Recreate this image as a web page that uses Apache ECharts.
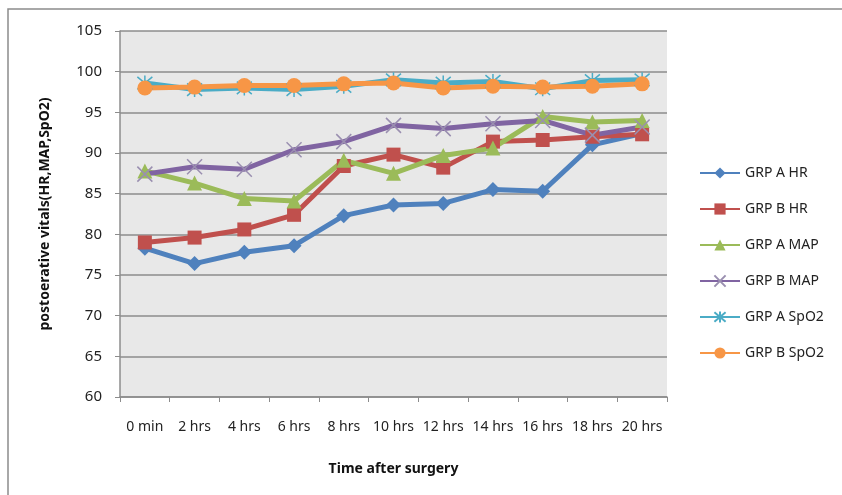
<!DOCTYPE html>
<html>
<head>
<meta charset="utf-8">
<script src="https://cdn.jsdelivr.net/npm/echarts@6/dist/echarts.min.js"></script>
<style>
html,body{margin:0;padding:0;background:#fff;}
#vitalsChart{width:842px;height:495px;}
</style>
</head>
<body>
<div id="vitalsChart"></div>
<script>
// categories (time after surgery)
var timeLabels = ['0 min', '2 hrs', '4 hrs', '6 hrs', '8 hrs', '10 hrs', '12 hrs', '14 hrs', '16 hrs', '18 hrs', '20 hrs'];

// series values
var grpAHR   = [78.3, 76.4, 77.8, 78.6, 82.3, 83.6, 83.8, 85.5, 85.3, 91.0, 92.4];
var grpBHR   = [79.0, 79.6, 80.6, 82.4, 88.4, 89.8, 88.2, 91.4, 91.6, 92.0, 92.3];
var grpAMAP  = [87.8, 86.3, 84.4, 84.1, 89.1, 87.5, 89.7, 90.6, 94.5, 93.8, 94.0];
var grpBMAP  = [87.4, 88.3, 88.0, 90.4, 91.4, 93.4, 93.0, 93.6, 94.0, 92.2, 93.2];
var grpASpO2 = [98.6, 97.8, 98.0, 97.8, 98.2, 99.0, 98.6, 98.8, 97.9, 98.9, 99.0];
var grpBSpO2 = [98.0, 98.1, 98.3, 98.3, 98.5, 98.6, 98.0, 98.2, 98.1, 98.2, 98.5];

var seriesNames = ['GRP A HR', 'GRP B HR', 'GRP A MAP', 'GRP B MAP', 'GRP A SpO2', 'GRP B SpO2'];

var fontFam = 'Noto Sans';

// marker shapes that are only strokes
var crossPath = 'path://M0,0L10,10M10,0L0,10';
var starPath = 'path://M0,0L10,10M10,0L0,10M5,-1L5,11';

function lineSeries(name, data, color, symbol, size, extraItem) {
	var item = { color: color };
	if (extraItem) {
		for (var k in extraItem) item[k] = extraItem[k];
	}
	return {
		name: name,
		type: 'line',
		data: data,
		symbol: symbol,
		symbolSize: size,
		showAllSymbol: true,
		lineStyle: { color: color, width: 5 },
		itemStyle: item,
		emphasis: { disabled: true }
	};
}

var vitalsChart = echarts.init(document.getElementById('vitalsChart'));

var vitalsOption = {
	animation: false,
	backgroundColor: '#fff',
	textStyle: { fontFamily: fontFam },
	graphic: [{
		type: 'rect',
		shape: { x: 8, y: 9, width: 900, height: 600 },
		style: { fill: 'none', stroke: '#8c8c8c', lineWidth: 1.5 },
		silent: true
	}],
	grid: {
		left: 120,
		right: 175,
		top: 31,
		bottom: 98,
		show: true,
		backgroundColor: '#e8e8e8',
		borderWidth: 0
	},
	legend: {
		orient: 'vertical',
		left: 694,
		top: 161,
		itemWidth: 40,
		itemHeight: 14,
		itemGap: 22,
		data: seriesNames,
		textStyle: { fontSize: 14, color: '#222', fontFamily: fontFam }
	},
	xAxis: {
		type: 'category',
		data: timeLabels,
		boundaryGap: true,
		name: 'Time after surgery',
		nameLocation: 'middle',
		nameGap: 65,
		nameTextStyle: { fontSize: 14, fontWeight: 'bold', color: '#111' },
		axisLine: { lineStyle: { color: '#8c8c8c', width: 1.5 } },
		axisTick: { show: true, length: 5, alignWithLabel: false, lineStyle: { color: '#8c8c8c' } },
		axisLabel: { fontSize: 14, color: '#222', margin: 23, interval: 0 }
	},
	yAxis: {
		type: 'value',
		min: 60,
		max: 105,
		interval: 5,
		name: 'postoerative vitals(HR,MAP,SpO2)',
		nameLocation: 'middle',
		nameGap: 68,
		nameTextStyle: { fontSize: 14, fontWeight: 'bold', color: '#111' },
		axisLine: { show: true, lineStyle: { color: '#8c8c8c', width: 1.5 } },
		axisTick: { show: true, length: 5, inside: false, lineStyle: { color: '#8c8c8c' } },
		axisLabel: { fontSize: 15, color: '#222', margin: 18 },
		splitLine: { lineStyle: { color: '#8c8c8c', width: 1.5 } }
	},
	series: [
		lineSeries('GRP A HR', grpAHR, '#4f81bd', 'diamond', 15),
		lineSeries('GRP B HR', grpBHR, '#c0504d', 'rect', 14),
		lineSeries('GRP A MAP', grpAMAP, '#9bbb59', 'triangle', 15),
		lineSeries('GRP B MAP', grpBMAP, '#8064a2', crossPath, 15, { borderColor: '#9a8fb0', borderWidth: 1.5 }),
		lineSeries('GRP A SpO2', grpASpO2, '#4bacc6', starPath, 15, { borderColor: '#4bacc6', borderWidth: 1.5 }),
		lineSeries('GRP B SpO2', grpBSpO2, '#f79646', 'circle', 15)
	]
};

vitalsChart.setOption(vitalsOption);
</script>
</body>
</html>
